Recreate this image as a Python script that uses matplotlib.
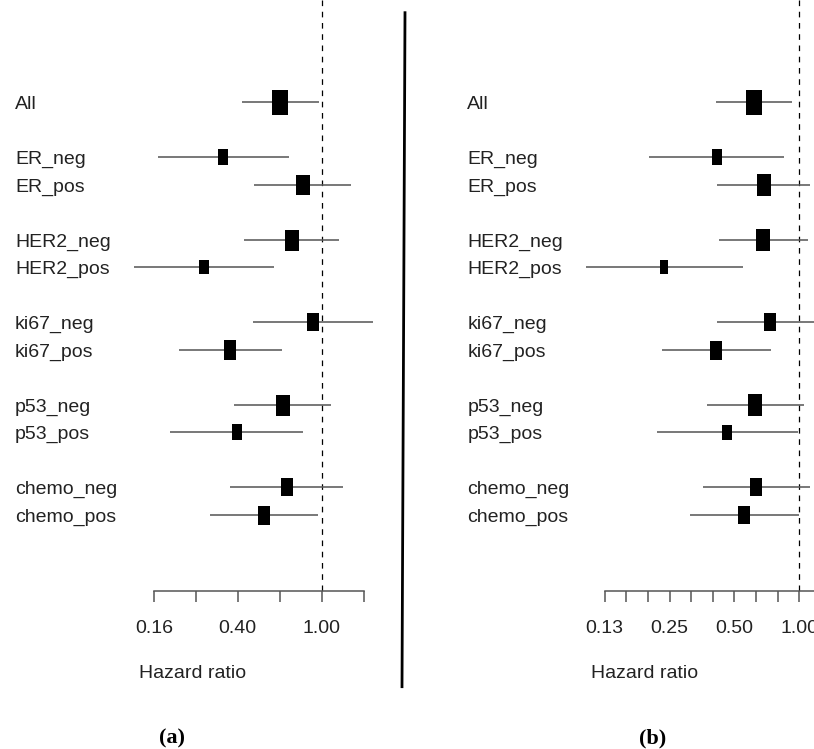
import numpy as np
import matplotlib
matplotlib.use("Agg")
import matplotlib.pyplot as plt
from matplotlib.path import Path
from matplotlib.lines import Line2D
from matplotlib.ticker import NullLocator

plt.rcParams['font.family'] = ['Liberation Sans', 'DejaVu Sans']

# Subgroups, in groups (a blank row separates groups)
groups = [['All'], ['ER_neg', 'ER_pos'], ['HER2_neg', 'HER2_pos'],
          ['ki67_neg', 'ki67_pos'], ['p53_neg', 'p53_pos'],
          ['chemo_neg', 'chemo_pos']]

# Panel (a): hazard ratio, lower / upper 95% CI, box size (relative weight)
hr_a = [0.636, 0.340, 0.811, 0.723, 0.277, 0.911, 0.369, 0.652, 0.395, 0.681, 0.534]
lo_a = [0.418, 0.167, 0.476, 0.430, 0.129, 0.471, 0.211, 0.384, 0.191, 0.369, 0.296]
hi_a = [0.971, 0.700, 1.381, 1.208, 0.596, 1.751, 0.646, 1.107, 0.813, 1.258, 0.964]
w_a = [1.00, 0.61, 0.81, 0.84, 0.56, 0.69, 0.79, 0.84, 0.61, 0.72, 0.76]

# Panel (b)
hr_b = [0.616, 0.414, 0.684, 0.680, 0.236, 0.735, 0.412, 0.625, 0.464, 0.630, 0.554]
lo_b = [0.411, 0.201, 0.416, 0.423, 0.102, 0.414, 0.231, 0.374, 0.219, 0.356, 0.310]
hi_b = [0.928, 0.852, 1.121, 1.094, 0.546, 1.300, 0.737, 1.048, 0.983, 1.118, 0.997]
w_b = [1.00, 0.61, 0.85, 0.87, 0.53, 0.73, 0.76, 0.85, 0.60, 0.75, 0.75]

# Axis ticks
ticks_a = [0.16, 0.253, 0.40, 0.632, 1.00, 1.58]
ticklabels_a = ['0.16', '', '0.40', '', '1.00', '']
ticks_b = [0.125 * 2 ** (k / 3) for k in range(11)]
ticklabels_b = ['0.13', '', '', '0.25', '', '', '0.50', '', '', '1.00', '']

W, H = 814, 749
fs = 14
fig = plt.figure(figsize=(W / 100, H / 100), dpi=100)

# row positions
labels, rows = [], []
r = 0
for g in groups:
    for name in g:
        labels.append(name)
        rows.append(r)
        r += 1
    r += 1
rows = np.array(rows)

row_top_px, row_step_px = 102.3, 27.5
def row_of(py):
    return (py - row_top_px) / row_step_px

# rectangular box marker (taller than wide)
bw = 0.65
box = Path([(-bw / 2, -0.5), (bw / 2, -0.5), (bw / 2, 0.5), (-bw / 2, 0.5), (-bw / 2, -0.5)],
           [Path.MOVETO, Path.LINETO, Path.LINETO, Path.LINETO, Path.CLOSEPOLY])

def panel(x0, x1, one_px, px_per_log, hr, lo, hi, wts, ticks, ticklabels, label_px, box_px):
    ax = fig.add_axes([x0 / W, 0, (x1 - x0) / W, 1])
    ax.set_xscale('log')
    ax.patch.set_alpha(0)
    for s in ['top', 'right', 'left']:
        ax.spines[s].set_visible(False)
    axis_row = row_of(590.7)
    ax.spines['bottom'].set_position(('data', axis_row))
    ax.spines['bottom'].set_bounds(ticks[0], ticks[-1])
    ax.spines['bottom'].set_color('#555555')
    ax.spines['bottom'].set_linewidth(1.1)
    ax.set_yticks([])
    ax.set_xticks(ticks, ticklabels)
    ax.xaxis.set_minor_locator(NullLocator())
    ax.tick_params(axis='x', direction='out', length=8, width=1.1, color='#555555',
                   labelsize=fs, labelcolor='#222222', pad=13)
    # limits after ticks so they are not widened
    ax.set_xlim(np.exp((x0 - one_px) / px_per_log), np.exp((x1 - one_px) / px_per_log))
    ax.set_ylim(row_of(H), row_of(0))

    # reference line at HR = 1
    ax.plot([1, 1], [row_of(0), axis_row], color='black', lw=0.9,
            linestyle=(0, (4.5, 4.5)), zorder=1)
    # CIs
    for y, l, h in zip(rows, lo, hi):
        ax.plot([l, h], [y, y], color='#5a5a5a', lw=1.15, solid_capstyle='butt', zorder=2)
    # boxes
    for y, e, w in zip(rows, hr, wts):
        ax.plot([e], [y], marker=box, markersize=box_px * w * 0.72, color='black',
                markeredgewidth=0, linestyle='none', zorder=3)
    # labels
    for y, name in zip(rows, labels):
        ax.text((label_px - x0) / (x1 - x0), y + 0.25, name,
                transform=ax.get_yaxis_transform(), ha='left', va='baseline',
                fontsize=fs, color='#222222')
    return ax

panel(0, 402, 321.7, 91.6, hr_a, lo_a, hi_a, w_a, ticks_a, ticklabels_a, 15, 25)
panel(440, 814, 799.3, 93.6, hr_b, lo_b, hi_b, w_b, ticks_b, ticklabels_b, 467.3, 25)

fig.text(193 / W, 1 - 674 / H, 'Hazard ratio', ha='center', va='center', fontsize=fs, color='#222222')
fig.text(645 / W, 1 - 674 / H, 'Hazard ratio', ha='center', va='center', fontsize=fs, color='#222222')

# separator between panels
fig.add_artist(Line2D([405 / W, 402 / W], [1 - 12.7 / H, 1 - 686.7 / H], lw=2.0, color='black'))

fig.text(171.5 / W, 1 - 738 / H, '(a)', ha='center', va='center', fontsize=16,
         fontweight='bold', family=['Liberation Serif', 'DejaVu Serif'])
fig.text(653 / W, 1 - 738 / H, '(b)', ha='center', va='center', fontsize=16,
         fontweight='bold', family=['Liberation Serif', 'DejaVu Serif'])

fig.savefig('out.png', dpi=100, facecolor='white')
